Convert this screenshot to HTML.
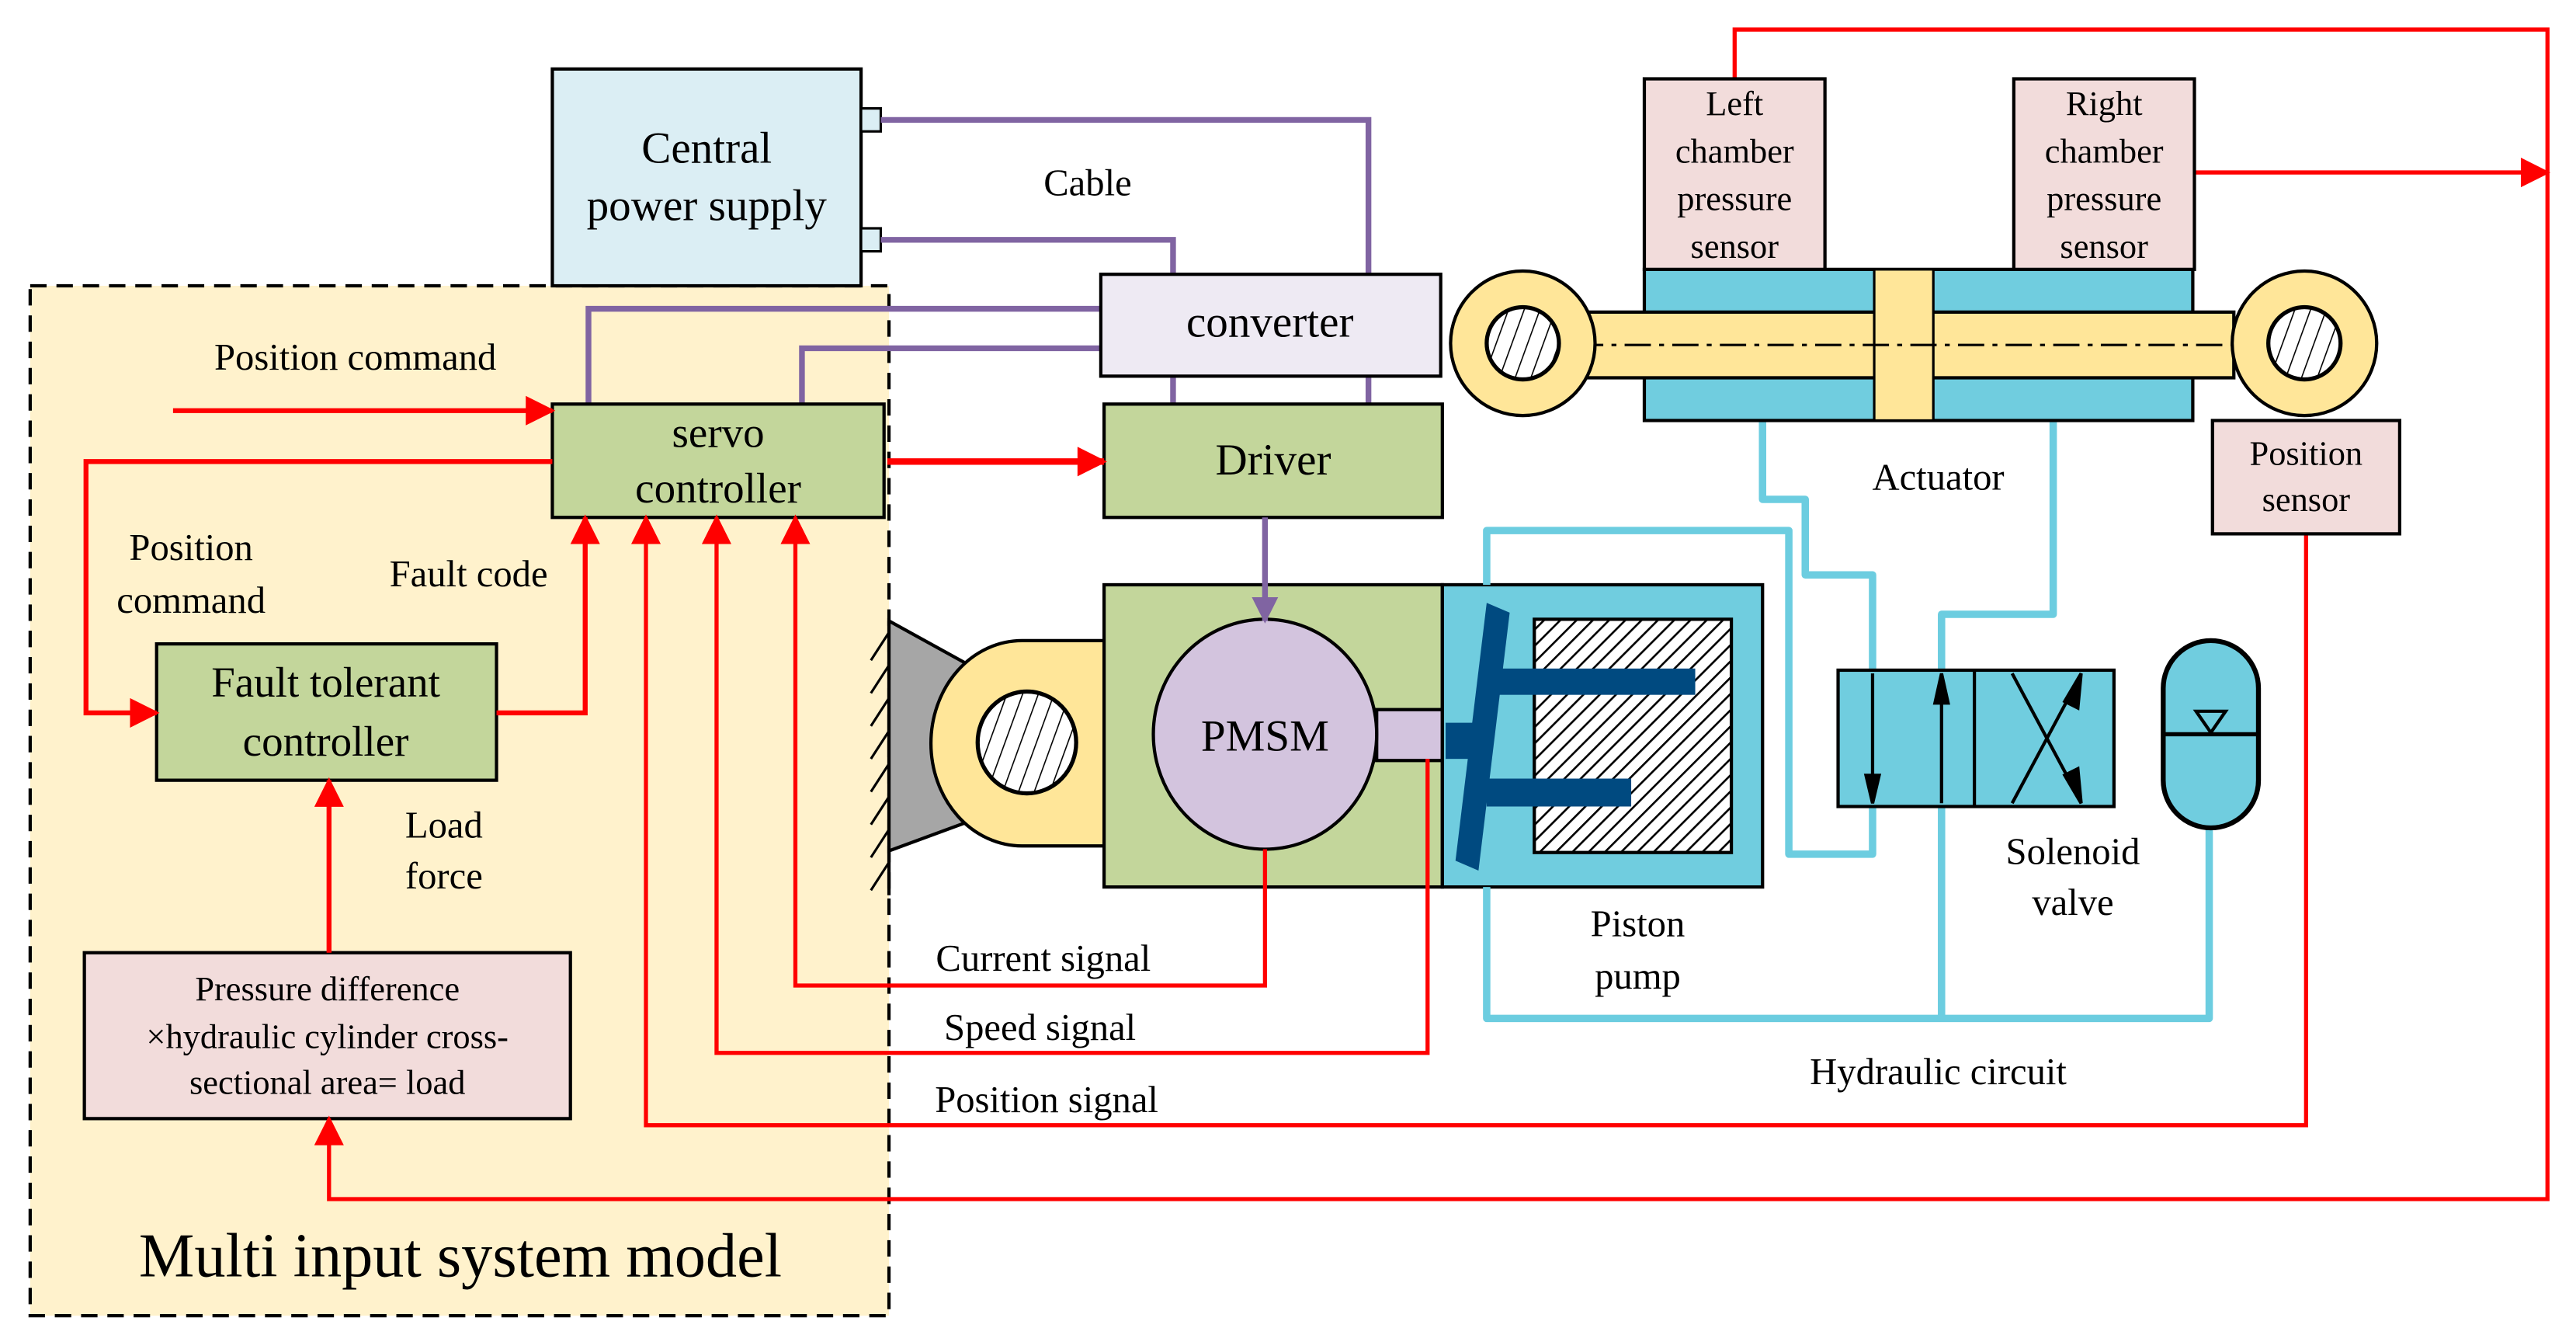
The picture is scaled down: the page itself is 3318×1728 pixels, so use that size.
<!DOCTYPE html>
<html><head><meta charset="utf-8"><style>html,body{margin:0;padding:0;background:#fff}svg{display:block}</style></head>
<body>
<svg width="3318" height="1728" viewBox="0 0 1568 817" xmlns="http://www.w3.org/2000/svg" font-family="Liberation Serif, serif">
<defs>
<pattern id="h" width="7" height="7" patternUnits="userSpaceOnUse" patternTransform="rotate(45)"><rect width="7" height="7" fill="#fff"/><line x1="0" y1="0" x2="0" y2="7" stroke="#000" stroke-width="2.5"/></pattern>
<pattern id="h2" width="9" height="9" patternUnits="userSpaceOnUse" patternTransform="rotate(20)"><rect width="9" height="9" fill="#fff"/><line x1="0" y1="0" x2="0" y2="9" stroke="#000" stroke-width="1.5"/></pattern>
<marker id="arB" viewBox="0 0 10 10" markerWidth="22" markerHeight="18" refX="9" refY="5" orient="auto" markerUnits="userSpaceOnUse"><path d="M0,0 L10,5 L0,10z" fill="#f00"/></marker>
<marker id="ap" viewBox="0 0 10 10" markerWidth="22" markerHeight="16" refX="9" refY="5" orient="auto" markerUnits="userSpaceOnUse"><path d="M0,0 L10,5 L0,10z" fill="#8064a2"/></marker>
</defs>
<rect x="18" y="174" width="523" height="627" fill="#fff2cc" stroke="#000" stroke-width="2" stroke-dasharray="10,6"/>
<rect x="336" y="42" width="188" height="132" fill="#dbeef4" stroke="#000" stroke-width="2"/>
<rect x="524" y="66" width="12" height="14" fill="#dbeef4" stroke="#000" stroke-width="1.5"/>
<rect x="524" y="139" width="12" height="14" fill="#dbeef4" stroke="#000" stroke-width="1.5"/>
<text x="430" y="99" font-size="27" text-anchor="middle">Central</text>
<text x="430" y="134" font-size="27" text-anchor="middle">power supply</text>
<g stroke="#8064a2" stroke-width="3.5" fill="none">
<polyline points="536,73 833,73 833,246"/>
<polyline points="536,146 714,146 714,167"/>
<polyline points="670,188 358,188 358,246"/>
<polyline points="670,212 488,212 488,246"/>
<line x1="714" y1="229" x2="714" y2="246"/>
</g>
<text x="662" y="119" font-size="23" text-anchor="middle">Cable</text>
<rect x="670" y="167" width="207" height="62" fill="#eeeaf3" stroke="#000" stroke-width="2"/>
<text x="773" y="205" font-size="27" text-anchor="middle">converter</text>
<rect x="336" y="246" width="202" height="69" fill="#c3d69b" stroke="#000" stroke-width="2"/>
<text x="437" y="272" font-size="26" text-anchor="middle">servo</text>
<text x="437" y="306" font-size="26" text-anchor="middle">controller</text>
<rect x="672" y="246" width="206" height="69" fill="#c3d69b" stroke="#000" stroke-width="2"/>
<text x="775" y="289" font-size="27" text-anchor="middle">Driver</text>
<text x="216" y="225" font-size="23" text-anchor="middle">Position command</text>
<text x="116" y="341" font-size="23" text-anchor="middle">Position</text>
<text x="116" y="373" font-size="23" text-anchor="middle">command</text>
<text x="285" y="357" font-size="23" text-anchor="middle">Fault code</text>
<text x="270" y="510" font-size="23" text-anchor="middle">Load</text>
<text x="270" y="541" font-size="23" text-anchor="middle">force</text>
<rect x="95" y="392" width="207" height="83" fill="#c3d69b" stroke="#000" stroke-width="2"/>
<text x="198" y="424" font-size="26" text-anchor="middle">Fault tolerant</text>
<text x="198" y="460" font-size="26" text-anchor="middle">controller</text>
<rect x="51" y="580" width="296" height="101" fill="#f2dcdb" stroke="#000" stroke-width="2"/>
<text x="199" y="609" font-size="21" text-anchor="middle">Pressure difference</text>
<text x="199" y="638" font-size="21" text-anchor="middle">×hydraulic cylinder cross-</text>
<text x="199" y="666" font-size="21" text-anchor="middle">sectional area= load</text>
<text x="280" y="777" font-size="38" text-anchor="middle">Multi input system model</text>
<text x="635" y="591" font-size="23" text-anchor="middle">Current signal</text>
<text x="633" y="633" font-size="23" text-anchor="middle">Speed signal</text>
<text x="637" y="677" font-size="23" text-anchor="middle">Position signal</text>
<line x1="541" y1="378" x2="541" y2="545" stroke="#000" stroke-width="2"/>
<g stroke="#000" stroke-width="1.5">
<line x1="541" y1="385" x2="530" y2="402"/><line x1="541" y1="405" x2="530" y2="422"/><line x1="541" y1="425" x2="530" y2="442"/><line x1="541" y1="445" x2="530" y2="462"/><line x1="541" y1="465" x2="530" y2="482"/><line x1="541" y1="485" x2="530" y2="502"/><line x1="541" y1="505" x2="530" y2="522"/><line x1="541" y1="525" x2="530" y2="542"/>
</g>
<polygon points="541,378 590,405 590,500 541,518" fill="#a6a6a6" stroke="#000" stroke-width="2"/>
<path d="M622,390 L672,390 L672,515 L622,515 A55,62 0 0 1 622,390z" fill="#ffe699" stroke="#000" stroke-width="2"/>
<rect x="672" y="356" width="206" height="184" fill="#c3d69b" stroke="#000" stroke-width="2"/>
<ellipse cx="625" cy="452" rx="30" ry="31" fill="url(#h2)" stroke="#000" stroke-width="2.5"/>
<rect x="838" y="432" width="40" height="31" fill="#d3c4de" stroke="#000" stroke-width="2"/>
<ellipse cx="770" cy="447" rx="68" ry="70" fill="#d3c4de" stroke="#000" stroke-width="2"/>
<text x="770" y="457" font-size="27" text-anchor="middle">PMSM</text>
<line x1="770" y1="315" x2="770" y2="378" stroke="#8064a2" stroke-width="3.5" marker-end="url(#ap)"/>
<rect x="878" y="356" width="195" height="184" fill="#70cddf" stroke="#000" stroke-width="2"/>
<rect x="934" y="377" width="120" height="142" fill="url(#h)" stroke="#000" stroke-width="2"/>
<g fill="#004a80">
<polygon points="905,367 919,373 900,530 886,524"/>
<rect x="908" y="407" width="124" height="16"/>
<rect x="905" y="474" width="88" height="17"/>
<rect x="880" y="440" width="22" height="22"/>
</g>
<text x="997" y="570" font-size="23" text-anchor="middle">Piston</text>
<text x="997" y="602" font-size="23" text-anchor="middle">pump</text>
<g stroke="#6ccde0" stroke-width="4.5" fill="none" stroke-linejoin="round">
<polyline points="905,356 905,323 1089,323 1089,520 1140,520 1140,490"/>
<polyline points="1073,256 1073,304 1099,304 1099,350 1140,350 1140,408"/>
<polyline points="1250,256 1250,374 1182,374 1182,408"/>
<polyline points="905,540 905,620 1345,620 1345,504"/>
<line x1="1182" y1="490" x2="1182" y2="620"/>
</g>
<text x="1180" y="660" font-size="23" text-anchor="middle">Hydraulic circuit</text>
<rect x="1119" y="408" width="168" height="83" fill="#70cddf" stroke="#000" stroke-width="2"/>
<line x1="1202" y1="408" x2="1202" y2="491" stroke="#000" stroke-width="2"/>
<g stroke="#000" stroke-width="2" fill="#000">
<line x1="1140" y1="410" x2="1140" y2="478"/><polygon points="1136,472 1144,472 1140,489"/>
<line x1="1182" y1="489" x2="1182" y2="422"/><polygon points="1178,428 1186,428 1182,410"/>
<line x1="1225" y1="489" x2="1262" y2="420"/><polygon points="1257,427 1265,431 1267,410"/>
<line x1="1225" y1="410" x2="1262" y2="479"/><polygon points="1257,472 1265,468 1267,489"/>
</g>
<text x="1262" y="526" font-size="23" text-anchor="middle">Solenoid</text>
<text x="1262" y="557" font-size="23" text-anchor="middle">valve</text>
<rect x="1317" y="390" width="58" height="114" rx="29" fill="#70cddf" stroke="#000" stroke-width="3"/>
<line x1="1317" y1="447" x2="1375" y2="447" stroke="#000" stroke-width="2.5"/>
<polygon points="1337,433 1355,433 1346,446" fill="none" stroke="#000" stroke-width="2"/>
<g stroke="#f00" stroke-width="3" fill="none">
<line x1="540" y1="281" x2="672" y2="281" stroke-width="4" marker-end="url(#arB)"/>
<line x1="105" y1="250" x2="336" y2="250" marker-end="url(#arB)"/>
<polyline points="336,281 52,281 52,434 95,434" marker-end="url(#arB)"/>
<polyline points="302,434 356,434 356,315" marker-end="url(#arB)"/>
<polyline points="770,517 770,600 484,600 484,315" stroke-width="2.5" marker-end="url(#arB)"/>
<polyline points="869,462 869,641 436,641 436,315" stroke-width="2.5" marker-end="url(#arB)"/>
<polyline points="1404,325 1404,685 393,685 393,315" stroke-width="2.5" marker-end="url(#arB)"/>
<polyline points="1056,48 1056,18 1551,18 1551,730 200,730 200,681" stroke-width="2.5" marker-end="url(#arB)"/>
<line x1="1336" y1="105" x2="1551" y2="105" stroke-width="2.5" marker-end="url(#arB)"/>
<line x1="200" y1="580" x2="200" y2="475" marker-end="url(#arB)"/>
</g>
<rect x="1001" y="164" width="334" height="92" fill="#70cddf" stroke="#000" stroke-width="2"/>
<rect x="920" y="190" width="440" height="40" fill="#ffe699" stroke="#000" stroke-width="2"/>
<rect x="1141" y="164" width="36" height="92" fill="#ffe699" stroke="#000" stroke-width="1.5"/>
<line x1="960" y1="210" x2="1360" y2="210" stroke="#000" stroke-width="1.5" stroke-dasharray="16,5,3,5"/>
<circle cx="927" cy="209" r="44" fill="#ffe699" stroke="#000" stroke-width="2"/>
<circle cx="927" cy="209" r="22" fill="url(#h2)" stroke="#000" stroke-width="2.5"/>
<circle cx="1403" cy="209" r="44" fill="#ffe699" stroke="#000" stroke-width="2"/>
<circle cx="1403" cy="209" r="22" fill="url(#h2)" stroke="#000" stroke-width="2.5"/>
<text x="1180" y="298" font-size="23" text-anchor="middle">Actuator</text>
<rect x="1001" y="48" width="110" height="116" fill="#f2dcdb" stroke="#000" stroke-width="2"/>
<text x="1056" y="70" font-size="21" text-anchor="middle">Left</text>
<text x="1056" y="99" font-size="21" text-anchor="middle">chamber</text>
<text x="1056" y="128" font-size="21" text-anchor="middle">pressure</text>
<text x="1056" y="157" font-size="21" text-anchor="middle">sensor</text>
<rect x="1226" y="48" width="110" height="116" fill="#f2dcdb" stroke="#000" stroke-width="2"/>
<text x="1281" y="70" font-size="21" text-anchor="middle">Right</text>
<text x="1281" y="99" font-size="21" text-anchor="middle">chamber</text>
<text x="1281" y="128" font-size="21" text-anchor="middle">pressure</text>
<text x="1281" y="157" font-size="21" text-anchor="middle">sensor</text>
<rect x="1347" y="256" width="114" height="69" fill="#f2dcdb" stroke="#000" stroke-width="2"/>
<text x="1404" y="283" font-size="21" text-anchor="middle">Position</text>
<text x="1404" y="311" font-size="21" text-anchor="middle">sensor</text>
</svg>
</body></html>
